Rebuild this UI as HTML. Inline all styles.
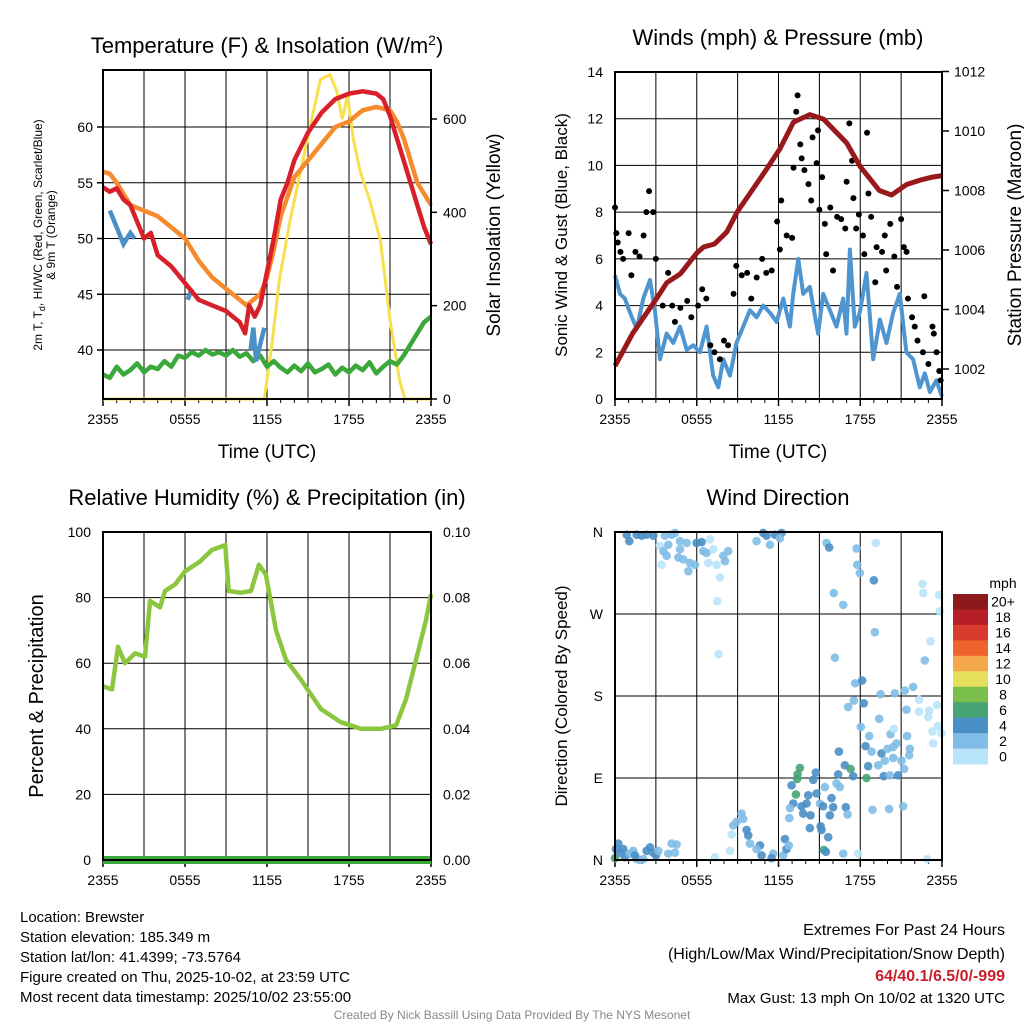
<!DOCTYPE html>
<html><head><meta charset="utf-8"><style>
body{margin:0;background:#fff;}
svg{display:block;font-family:"Liberation Sans",sans-serif;}
</style></head><body>
<svg id="fig" width="1024" height="1024" viewBox="0 0 1024 1024" xmlns="http://www.w3.org/2000/svg"></svg>
<script>
// ---------- DATA ----------
const timeTickLabels = ["2355","0555","1155","1755","2355"];
// Panel 1
const tempTicks = [40,45,50,55,60];
const insoTicks = [0,200,400,600];
const redHours = [0,0.5,1,1.5,2,2.5,3,3.5,4,5,6,7,8,9,9.5,10,10.4,10.7,11.1,11.5,12,12.5,13,13.5,14,15,16,17,18,19,20,20.5,21,21.5,22,22.5,23,23.5,24];
const redTemp = [54.6,54.2,54.5,53.5,53,51.5,50,50.5,48.5,47.5,46,44.5,44,43.5,43,42.5,41.5,44,43,44,47,50,53.5,55,57,59.5,61.3,62.5,63,63.2,63,62.5,61,59,57,55,53,51,49.5];
const orangeHours = [0,0.5,1,1.5,2,3,4,5,6,7,8,9,10,10.5,11,11.5,12,12.5,13,14,15,16,17,18,19,20,21,21.5,22,22.5,23,23.5,24];
const orangeTemp = [56,55.8,55,54,53,52.5,52,51,50,48,46.5,45.5,44.5,44,44.5,45,46.5,49,52,55.5,57,58.5,60,60.5,61.5,61.8,61.5,60.5,59,57,55,54,53];
const greenTemp = [37.8,37.5,38.5,37.8,38.2,38.8,38,38.5,38.3,39,38.5,39.5,39.3,39.8,39.5,40,39.6,39.8,39.5,40,39.4,39.7,39,39.5,38.5,39,38.4,38,38.6,38.1,38.8,38,38.3,38.7,37.8,38.4,38,38.6,38.2,38.9,37.9,38.5,39,38.7,39.5,40.5,41.5,42.5,43];
const blueSegHours = [[0.5,1,1.5,2,2.3],[6.2,6.5],[10.8,11,11.2,11.5,11.8]];
const blueSegTemp = [[52.5,51,49.5,50.5,50],[44.5,45.5],[40,42,39,40.5,42]];
const insoHours = [0,11.8,12.4,12.9,13.7,14.4,15.1,15.9,16.6,17.1,17.5,17.9,18.3,18.8,19.5,20.3,21,21.7,22.1,24];
const insoVals = [0,0,127,255,384,480,576,684,695,660,600,650,560,490,427,340,170,40,0,0];
// Panel 2
const windTicks = [0,2,4,6,8,10,12,14];
const presTicks = [1002,1004,1006,1008,1010,1012];
const windHours = [0,0.37,0.73,1.10,1.59,2.08,2.57,2.93,3.30,3.79,4.28,4.77,5.26,5.75,6.23,6.72,7.21,7.58,7.95,8.44,8.92,9.41,9.90,10.39,10.88,11.37,11.86,12.35,12.84,13.08,13.45,13.81,14.30,14.91,15.28,15.77,16.26,16.75,16.99,17.24,17.60,17.97,18.46,18.95,19.44,19.93,20.42,20.90,21.39,21.88,22.37,22.74,23.11,23.59,24];
const windSpeed = [5.3,4.5,4.3,3.7,3.0,4.3,5.1,3.8,1.7,2.8,2.4,3.1,2.1,2.3,2.0,3.1,1.0,0.5,1.7,1.0,2.4,3.1,3.8,3.5,4.0,3.7,3.3,4.3,3.1,4.5,6.0,4.5,4.8,2.8,4.5,3.8,3.1,4.3,2.8,6.4,3.1,3.7,5.4,1.7,3.4,2.4,3.7,4.5,2.0,1.7,0.5,1.1,0.3,0.8,0.1];
const gustHours = [0,0.1,0.2,0.4,0.6,1.0,1.2,1.5,1.8,2.1,2.3,2.5,2.8,3.0,3.9,3.5,4.2,4.8,4.4,5.3,5.6,6.1,6.4,6.7,7.0,7.3,7.7,8.0,8.3,8.7,8.9,9.3,9.7,10.0,10.4,10.8,11.1,11.5,11.9,12.1,12.2,12.6,13.0,13.1,13.3,13.4,13.6,13.7,13.9,14.2,14.4,14.5,14.8,14.9,15.0,15.2,15.4,15.5,15.8,16.0,16.3,16.6,16.9,17.0,17.2,17.4,17.5,17.7,17.9,18.2,18.3,18.5,18.6,18.8,19.1,19.2,19.6,19.8,19.9,20.2,20.5,20.7,21.0,21.2,21.4,21.5,21.8,22.0,22.2,22.6,22.7,23.0,23.3,23.4,23.6,23.8,23.9];
const gustSpeed = [8.2,7.1,6.7,6.3,6.0,7.1,5.3,6.3,6.1,7.0,8.0,8.9,8.0,6.0,5.4,4.0,4.0,3.9,3.3,4.2,3.5,4.0,4.7,4.3,2.3,2.0,1.7,2.5,2.3,4.5,5.7,5.3,5.4,4.3,5.2,6.0,5.4,5.5,7.6,6.4,8.5,7.0,6.9,9.9,12.3,13.0,10.9,10.3,9.8,9.2,8.5,11.2,10.1,11.5,8.1,9.5,7.5,6.2,8.2,5.5,7.8,7.7,7.3,9.3,11.8,10.2,8.6,7.3,7.9,7.0,6.2,11.4,8.8,7.8,5.0,6.5,6.3,7.0,5.5,7.5,6.1,4.8,7.7,6.5,6.3,4.3,3.5,3.1,2.5,2.0,4.4,1.5,3.1,2.8,2.0,1.2,0.8];
const presHours = [0,1.3,3.1,3.8,4.8,6.0,6.5,7.3,8.2,9.0,9.9,11.1,12.1,13.1,14.3,15.3,17.0,18.0,19.4,20.3,21.4,22.4,23.3,24];
const presVals = [1002.1,1003.2,1004.4,1004.9,1005.2,1005.9,1006.1,1006.2,1006.6,1007.3,1007.9,1008.7,1009.4,1010.3,1010.55,1010.4,1009.6,1008.8,1008.0,1007.85,1008.2,1008.35,1008.45,1008.5];
// Panel 3
const rhTicks = [0,20,40,60,80,100];
const precipTicks = ["0.00","0.02","0.04","0.06","0.08","0.10"];
const rhHours = [0,0.66,1.1,1.61,2.34,3.07,3.44,4.17,4.54,5.27,6.0,7.1,7.97,8.94,9.2,10.1,10.83,11.41,11.92,12.66,13.39,14.48,15.95,17.41,18.88,20.34,21.44,22.17,22.9,23.63,24];
const rhVals = [53,52,65,60,63,62,79,77,82,84,88,91,94.5,96,82,81.5,82,90,87,70,61,55,46,42,40,40,41,49,61,73,81];
const precipVals = [0,0];
// Panel 4
const dirLabels = ["N","E","S","W","N"];
const dirHours = [0.86,1.05,1.59,1.96,2.32,2.81,3.67,4.16,4.40,3.30,3.55,3.91,3.79,3.42,4.77,4.77,5.26,4.65,5.01,5.50,5.87,5.38,5.99,6.36,6.48,6.72,6.97,7.21,6.85,7.46,7.70,7.95,8.31,8.07,7.51,7.60,10.39,10.88,11.12,11.37,11.74,12.23,12.10,15.53,15.72,17.73,17.78,17.97,19.00,19.14,16.06,16.75,19.07,16.14,22.57,22.62,23.79,23.84,23.15,22.74,
17.63,18.14,17.11,17.53,18.26,19.49,20.54,21.27,21.88,22.32,21.39,22.32,23.06,23.64,22.98,19.39,18.04,18.66,20.22,20.46,21.44,23.30,23.72,23.96,23.35,18.39,16.43,18.83,19.56,20.00,20.42,20.66,21.64,21.59,19.80,20.42,21.03,16.87,17.29,18.58,19.32,21.22,16.38,17.48,18.46,19.73,20.17,20.78,13.57,13.40,13.37,14.55,14.74,12.96,13.28,14.18,14.79,15.40,16.26,16.50,13.08,13.69,14.06,15.04,15.28,15.89,16.01,16.94,12.84,13.81,14.35,15.77,17.07,12.79,18.90,20.12,21.15,14.30,15.09,15.16,15.65,9.66,9.78,9.29,9.41,8.68,8.92,8.56,8.44,7.34,9.90,10.64,10.39,10.76,11.61,11.49,12.35,12.47,12.59,12.76,15.33,15.48,16.75,17.85,22.91,
0,0.07,0.24,0.37,0.61,0.73,1.10,1.34,1.59,1.83,2.08,2.32,2.57,2.81,3.01,3.18,3.91,4.16,4.40,4.52,1.47];
const dirDeg = [357,350,357,356,357,356,356,357,359,345,339,346,334,324,350,341,348,332,330,326,324,317,348,349,339,337,352,341,326,324,310,334,339,328,284,226,350,359,356,346,357,359,353,348,343,342,324,315,307,348,293,280,250,222,303,293,291,273,240,219,
194,197,168,175,172,182,183,186,190,176,165,163,164,170,157,155,146,136,138,144,136,141,147,139,128,125,119,119,117,122,124,128,122,115,109,112,109,104,100,103,104,100,94,92,90,92,93,93,101,94,89,88,96,82,72,71,73,80,84,80,62,59,62,62,59,68,58,58,57,51,49,49,50,46,55,56,59,35,37,33,25,33,27,51,45,38,42,28,10,3,18,16,12,5,7,2,5,23,12,16,11,9,7,7,1,
2,12,18,8,12,3,7,10,1,0,1,10,14,8,5,10,7,18,8,17,5];
const dirSpeed = [4,5,4,5,4,4,3,3,3,1,3,3,3,1,3,3,3,3,3,3,2,3,4,5,3,3,1,1,1,1,1,3,3,3,1,1,3,4,4,3,4,4,3,3,5,3,3,3,5,1,3,3,3,3,1,1,1,1,1,3,
3,4,3,3,4,3,3,3,3,1,3,1,1,1,1,3,3,3,3,1,3,1,1,1,1,4,4,3,4,3,3,3,3,3,3,3,3,5,7,4,3,3,4,4,7,4,3,4,7,7,7,4,4,4,7,4,4,3,3,3,4,4,4,3,4,4,4,4,3,4,4,4,3,3,3,3,3,4,4,4,4,4,4,3,3,3,3,1,1,1,3,4,3,4,3,4,3,4,4,3,7,4,3,1,1,
7,4,4,4,4,4,3,3,3,3,3,4,4,4,4,3,3,3,3,3,4];
const cbarLabels = ["20+","18","16","14","12","10","8","6","4","2","0"];
const cbarColors = ["#8c1a1b","#b71f26","#d83a2e","#ee642c","#f5a84b","#e6e05c","#7abf4b","#47a474","#4a8fc6","#7fbce6","#b8e3f8"];

// ---------- HELPERS ----------
const NS="http://www.w3.org/2000/svg";
const svg=document.getElementById('fig');
function mk(tag,attrs,parent){const e=document.createElementNS(NS,tag);for(const k in attrs)e.setAttribute(k,attrs[k]);(parent||svg).appendChild(e);return e;}
function txt(s,x,y,size,anchor,parent,extra){const e=mk('text',Object.assign({x:x,y:y,'font-size':size,'text-anchor':anchor||'middle',fill:'#000'},extra||{}),parent);e.textContent=s;return e;}
function lin(d0,d1,r0,r1){return v=>r0+(v-d0)*(r1-r0)/(d1-d0);}
function pathD(xs,ys,fx,fy){return xs.map((h,i)=>(i?'L':'M')+fx(h).toFixed(1)+','+fy(ys[i]).toFixed(1)).join('');}

function frame(x0,y0,x1,y1,name){
  const g=mk('g',{});
  
  
  // vertical grid every 3h
  const fx=lin(0,24,x0,x1);
  for(let h=3;h<24;h+=3){const l=mk('line',{x1:fx(h),x2:fx(h),y1:y0,y2:y1,stroke:'#000','stroke-width':1},g);
    
    }
  // x tick labels
  timeTickLabels.forEach((s,i)=>{const t=txt(s,fx(i*6),y1+25,14,'middle',g);
    
    
    mk('line',{x1:fx(i*6),x2:fx(i*6),y1:y1,y2:y1+7,stroke:'#000','stroke-width':1.5},g);});
  for(let h=1;h<24;h++) mk('line',{x1:fx(h),x2:fx(h),y1:y1,y2:y1+4,stroke:'#000','stroke-width':1},g);
  return {g,fx};
}
function border(x0,y0,x1,y1,name){const r=mk('rect',{x:x0,y:y0,width:x1-x0,height:y1-y0,fill:'none',stroke:'#000','stroke-width':2});
  
  }

// ---------- PANEL 1 ----------
(function(){
  const x0=103,x1=431,y0=70,y1=399;
  const {g,fx}=frame(x0,y0,x1,y1,'temperature-panel');
  const fy=lin(40,60,350,127), fi=lin(0,600,399,119);
  tempTicks.forEach(v=>{mk('line',{x1:x0,x2:x1,y1:fy(v),y2:fy(v),stroke:'#000','stroke-width':1},g);
    const t=txt(String(v),x0-10,fy(v)+5,14,'end',g);
    
    
    mk('line',{x1:x0-6,x2:x0,y1:fy(v),y2:fy(v),stroke:'#000','stroke-width':1.5},g);});
  insoTicks.forEach(v=>{const t=txt(String(v),x1+12,fi(v)+5,14,'start',g);
    
    
    mk('line',{x1:x1,x2:x1+6,y1:fi(v),y2:fi(v),stroke:'#000','stroke-width':1.5},g);});
  const fg=lin(0,24,x0,x1);
  const ins=mk('path',{d:pathD(insoHours,insoVals,fg,fi),fill:'none',stroke:'#f7df4e','stroke-width':3},g);
  
  
  const gh=greenTemp.map((_,i)=>i*0.5);
  const gr=mk('path',{d:pathD(gh,greenTemp,fg,fy),fill:'none',stroke:'#3aa83a','stroke-width':4.5,'stroke-linejoin':'round'},g);
  
  
  const or=mk('path',{d:pathD(orangeHours,orangeTemp,fg,fy),fill:'none',stroke:'#f68a2c','stroke-width':4.5,'stroke-linejoin':'round'},g);
  
  
  blueSegHours.forEach((hs,i)=>{const b=mk('path',{d:pathD(hs,blueSegTemp[i],fg,fy),fill:'none',stroke:'#4a8fc6','stroke-width':4.5},g);
    
    });
  const rd=mk('path',{d:pathD(redHours,redTemp,fg,fy),fill:'none',stroke:'#d7202a','stroke-width':4.5,'stroke-linejoin':'round'},g);
  
  
  border(x0,y0,x1,y1,'temperature-plot-border');
  const t=mk('text',{x:267,y:53,'font-size':22,'text-anchor':'middle'});
  t.innerHTML='Temperature (F) &amp; Insolation (W/m<tspan dy="-8" font-size="14">2</tspan><tspan dy="8">)</tspan>';
  
  
  const xl=txt('Time (UTC)',267,458,19,'middle');
  
  
  const yl=mk('text',{transform:'translate(42,235) rotate(-90)','font-size':12,'text-anchor':'middle'});
  yl.innerHTML='<tspan x="0" y="0">2m T, T<tspan font-size="9" dy="3">d</tspan><tspan dy="-3">, HI/WC (Red, Green, Scarlet/Blue)</tspan></tspan><tspan x="0" y="13">&amp; 9m T (Orange)</tspan>';
  
  
  const yr=txt('Solar Insolation (Yellow)',0,0,19,'middle',svg,{transform:'translate(500,235) rotate(-90)'});
  
  
})();

// ---------- PANEL 2 ----------
(function(){
  const x0=615,x1=942,y0=72,y1=399;
  const {g,fx}=frame(x0,y0,x1,y1,'winds-panel');
  const fy=lin(0,14,399,72), fp=lin(1002,1010,369,131);
  windTicks.forEach(v=>{mk('line',{x1:x0,x2:x1,y1:fy(v),y2:fy(v),stroke:'#000','stroke-width':1},g);
    const t=txt(String(v),x0-12,fy(v)+5,14,'end',g);
    
    });
  presTicks.forEach(v=>{const t=txt(String(v),x1+12,fp(v)+5,14,'start',g);
    
    
    mk('line',{x1:x1,x2:x1+7,y1:fp(v),y2:fp(v),stroke:'#000','stroke-width':1.5},g);});
  const w=mk('path',{d:pathD(windHours,windSpeed,fx,fy),fill:'none',stroke:'#4f96d0','stroke-width':4,'stroke-linejoin':'round'},g);
  
  
  gustHours.forEach((h,i)=>{const c=mk('circle',{cx:fx(h),cy:fy(gustSpeed[i]),r:3,fill:'#000'},g);
    
    });
  const p=mk('path',{d:pathD(presHours,presVals,fx,fp),fill:'none',stroke:'#98181c','stroke-width':5,'stroke-linejoin':'round'},g);
  
  
  border(x0,y0,x1,y1,'winds-plot-border');
  const t=txt('Winds (mph) & Pressure (mb)',778,45,22);
  
  
  const xl=txt('Time (UTC)',778,458,19);
  
  
  const yl=txt('Sonic Wind & Gust (Blue, Black)',0,0,17,'middle',svg,{transform:'translate(567,235) rotate(-90)'});
  
  
  const yr=txt('Station Pressure (Maroon)',0,0,19,'middle',svg,{transform:'translate(1021,235) rotate(-90)'});
  
  
})();

// ---------- PANEL 3 ----------
(function(){
  const x0=103,x1=431,y0=532,y1=860;
  const {g,fx}=frame(x0,y0,x1,y1,'humidity-panel');
  const fy=lin(0,100,860,532);
  rhTicks.forEach((v,i)=>{mk('line',{x1:x0,x2:x1,y1:fy(v),y2:fy(v),stroke:'#000','stroke-width':1},g);
    const t=txt(String(v),x0-12,fy(v)+5,14,'end',g);
    
    
    const t2=txt(precipTicks[i],x1+12,fy(v)+5,14,'start',g);
    
    });
  const r=mk('path',{d:pathD(rhHours,rhVals,fx,fy),fill:'none',stroke:'#8cc63f','stroke-width':4.5,'stroke-linejoin':'round'},g);
  
  
  const fpr=lin(0,0.1,860,532);
  const pr=mk('path',{d:pathD([0,24],precipVals,fx,fpr),fill:'none',stroke:'#3aa83a','stroke-width':8},g);
  
  
  border(x0,y0,x1,y1,'humidity-plot-border');
  const t=txt('Relative Humidity (%) & Precipitation (in)',267,505,22);
  
  
  const yl=txt('Percent & Precipitation',0,0,20,'middle',svg,{transform:'translate(43,696) rotate(-90)'});
  
  
})();

// ---------- PANEL 4 ----------
(function(){
  const x0=615,x1=942,y0=532,y1=860;
  const {g,fx}=frame(x0,y0,x1,y1,'wind-direction-panel');
  const fy=lin(0,360,860,532);
  dirLabels.forEach((s,i)=>{const v=i*90;
    mk('line',{x1:x0,x2:x1,y1:fy(v),y2:fy(v),stroke:'#000','stroke-width':1},g);
    const t=txt(s,x0-12,fy(v)+5,14,'end',g);
    
    });
  function col(s){const idx=Math.min(10,Math.floor(s/2));return cbarColors[10-idx];}
  dirHours.forEach((h,i)=>{const c=mk('circle',{cx:fx(h),cy:fy(dirDeg[i]),r:4.3,fill:col(dirSpeed[i]),'fill-opacity':0.9},g);
    
    });
  border(x0,y0,x1,y1,'wind-direction-plot-border');
  const t=txt('Wind Direction',778,505,22);
  
  
  const yl=txt('Direction (Colored By Speed)',0,0,17,'middle',svg,{transform:'translate(567,696) rotate(-90)'});
  
  
  const cb=mk('g',{});
  
  
  const h=170/11;
  cbarColors.forEach((c,i)=>{mk('rect',{x:953,y:594+i*h,width:35,height:h+0.5,fill:c},cb);
    const l=txt(cbarLabels[i],1003,594+i*h+h/2+5,14,'middle',cb);
    
    });
  const m=txt('mph',1003,588,14,'middle',cb);
  
  
})();

// ---------- FOOTER TEXT ----------
const infoLines=["Location: Brewster","Station elevation: 185.349 m","Station lat/lon: 41.4399; -73.5764","Figure created on Thu, 2025-10-02, at 23:59 UTC","Most recent data timestamp: 2025/10/02 23:55:00"];
infoLines.forEach((s,i)=>{const t=txt(s,20,922+i*20,15,'start');
  
  });
const e1=txt('Extremes For Past 24 Hours',1005,935,16,'end');


const e2=txt('(High/Low/Max Wind/Precipitation/Snow Depth)',1005,959,16,'end');


const e3=txt('64/40.1/6.5/0/-999',1005,981,16,'end',svg,{fill:'#c8202a','font-weight':'bold'});


const e4=txt('Max Gust: 13 mph On 10/02 at 1320 UTC',1005,1003,15,'end');


const cr=txt('Created By Nick Bassill Using Data Provided By The NYS Mesonet',512,1019,12,'middle',svg,{fill:'#888'});


</script>
</body></html>
